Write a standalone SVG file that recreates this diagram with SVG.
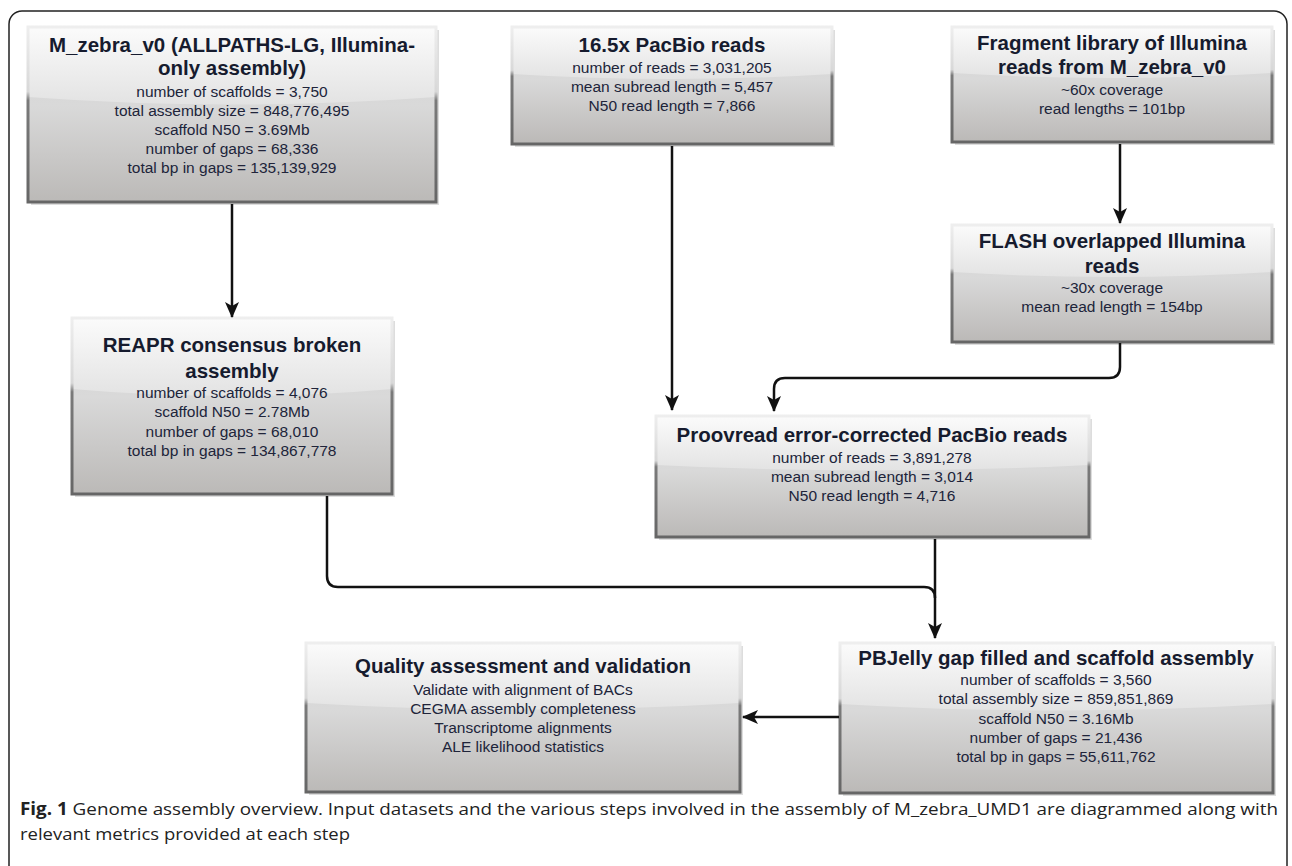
<svg xmlns="http://www.w3.org/2000/svg" width="1292" height="866" viewBox="0 0 1292 866">
<defs>
<linearGradient id="gBody" x1="0" y1="0" x2="0" y2="1">
<stop offset="0" stop-color="#d2d2d2"/>
<stop offset="0.45" stop-color="#d9d9d9"/>
<stop offset="1" stop-color="#bbb9b7"/>
</linearGradient>
<linearGradient id="gGloss" x1="0" y1="0" x2="0" y2="1">
<stop offset="0" stop-color="#fbfbfb"/>
<stop offset="1" stop-color="#e3e3e3"/>
</linearGradient>
<linearGradient id="gEdge" x1="0" y1="0" x2="0" y2="1">
<stop offset="0" stop-color="#eeeeee"/>
<stop offset="0.37" stop-color="#d8d8d8"/>
<stop offset="0.42" stop-color="#7a7a7a"/>
<stop offset="1" stop-color="#666666"/>
</linearGradient>
<marker id="arrow" viewBox="0 0 16 16" refX="15" refY="8" markerWidth="16" markerHeight="16" markerUnits="userSpaceOnUse" orient="auto">
<path d="M0,1 L16,8 L0,15 L4,8 Z" fill="#111"/>
</marker>
<style>
.frame{fill:none;stroke:#222;stroke-width:1.5}
.shadow{fill:#d4d4d4;opacity:0.8}
.body{fill:url(#gBody)}
.gloss{fill:url(#gGloss)}
.edge{fill:none;stroke:url(#gEdge);stroke-width:3}
.title{font-family:"Liberation Sans",Arial,sans-serif;font-weight:bold;font-size:20.5px;fill:#161b2e;text-anchor:middle}
.sub{font-family:"Liberation Sans",Arial,sans-serif;font-size:15.5px;fill:#20243a;text-anchor:middle}
.conn{fill:none;stroke:#111;stroke-width:2.5}
.cap{font-family:"Open Sans","Liberation Sans",sans-serif;font-size:17px;fill:#222}
</style>
</defs>
<rect x="0" y="0" width="1292" height="866" fill="#ffffff"/>
<rect class="frame" x="9" y="11" width="1278" height="880" rx="13" ry="13"/>

<g id="node-mzebra">
<rect class="shadow" x="31" y="30" width="408" height="175"/>
<rect class="body" x="28" y="27" width="408" height="175"/>
<path class="gloss" d="M28,27 H436 V97 Q232,112 28,97 Z"/>
<rect class="edge" x="28" y="27" width="408" height="175"/>
<text class="title" x="232" y="52">M_zebra_v0 (ALLPATHS-LG, Illumina-</text>
<text class="title" x="232" y="75">only assembly)</text>
<text class="sub" x="232" y="97">number of scaffolds = 3,750</text>
<text class="sub" x="232" y="116">total assembly size = 848,776,495</text>
<text class="sub" x="232" y="135">scaffold N50 = 3.69Mb</text>
<text class="sub" x="232" y="154">number of gaps = 68,336</text>
<text class="sub" x="232" y="173">total bp in gaps = 135,139,929</text>
</g>

<g id="node-pacbio">
<rect class="shadow" x="515" y="30" width="320" height="117"/>
<rect class="body" x="512" y="27" width="320" height="117"/>
<path class="gloss" d="M512,27 H832 V74 Q672,84 512,74 Z"/>
<rect class="edge" x="512" y="27" width="320" height="117"/>
<text class="title" x="672" y="52">16.5x PacBio reads</text>
<text class="sub" x="672" y="73">number of reads = 3,031,205</text>
<text class="sub" x="672" y="92">mean subread length = 5,457</text>
<text class="sub" x="672" y="111">N50 read length = 7,866</text>
</g>

<g id="node-fragment">
<rect class="shadow" x="955" y="30" width="320" height="115"/>
<rect class="body" x="952" y="27" width="320" height="115"/>
<path class="gloss" d="M952,27 H1272 V73 Q1112,83 952,73 Z"/>
<rect class="edge" x="952" y="27" width="320" height="115"/>
<text class="title" x="1112" y="50">Fragment library of Illumina</text>
<text class="title" x="1112" y="74">reads from M_zebra_v0</text>
<text class="sub" x="1112" y="95">~60x coverage</text>
<text class="sub" x="1112" y="114">read lengths = 101bp</text>
</g>

<g id="node-flash">
<rect class="shadow" x="955" y="228" width="320" height="117"/>
<rect class="body" x="952" y="225" width="320" height="117"/>
<path class="gloss" d="M952,225 H1272 V272 Q1112,282 952,272 Z"/>
<rect class="edge" x="952" y="225" width="320" height="117"/>
<text class="title" x="1112" y="248">FLASH overlapped Illumina</text>
<text class="title" x="1112" y="273">reads</text>
<text class="sub" x="1112" y="293">~30x coverage</text>
<text class="sub" x="1112" y="312">mean read length = 154bp</text>
</g>

<g id="node-reapr">
<rect class="shadow" x="75" y="321" width="320" height="176"/>
<rect class="body" x="72" y="318" width="320" height="176"/>
<path class="gloss" d="M72,318 H392 V389 Q232,403 72,389 Z"/>
<rect class="edge" x="72" y="318" width="320" height="176"/>
<text class="title" x="232" y="352">REAPR consensus broken</text>
<text class="title" x="232" y="378">assembly</text>
<text class="sub" x="232" y="398">number of scaffolds = 4,076</text>
<text class="sub" x="232" y="417">scaffold N50 = 2.78Mb</text>
<text class="sub" x="232" y="437">number of gaps = 68,010</text>
<text class="sub" x="232" y="456">total bp in gaps = 134,867,778</text>
</g>

<g id="node-proovread">
<rect class="shadow" x="659" y="419" width="433" height="121"/>
<rect class="body" x="656" y="416" width="433" height="121"/>
<path class="gloss" d="M656,416 H1089 V465 Q872,476 656,465 Z"/>
<rect class="edge" x="656" y="416" width="433" height="121"/>
<text class="title" x="872" y="442">Proovread error-corrected PacBio reads</text>
<text class="sub" x="872" y="463">number of reads = 3,891,278</text>
<text class="sub" x="872" y="482">mean subread length = 3,014</text>
<text class="sub" x="872" y="501">N50 read length = 4,716</text>
</g>

<g id="node-pbjelly">
<rect class="shadow" x="843" y="646" width="433" height="150"/>
<rect class="body" x="840" y="643" width="433" height="150"/>
<path class="gloss" d="M840,643 H1273 V704 Q1056,717 840,704 Z"/>
<rect class="edge" x="840" y="643" width="433" height="150"/>
<text class="title" x="1056" y="665">PBJelly gap filled and scaffold assembly</text>
<text class="sub" x="1056" y="685">number of scaffolds = 3,560</text>
<text class="sub" x="1056" y="704">total assembly size = 859,851,869</text>
<text class="sub" x="1056" y="724">scaffold N50 = 3.16Mb</text>
<text class="sub" x="1056" y="743">number of gaps = 21,436</text>
<text class="sub" x="1056" y="762">total bp in gaps = 55,611,762</text>
</g>

<g id="node-quality">
<rect class="shadow" x="309" y="646" width="434" height="149"/>
<rect class="body" x="306" y="643" width="434" height="149"/>
<path class="gloss" d="M306,643 H740 V703 Q523,716 306,703 Z"/>
<rect class="edge" x="306" y="643" width="434" height="149"/>
<text class="title" x="523" y="673">Quality assessment and validation</text>
<text class="sub" x="523" y="695">Validate with alignment of BACs</text>
<text class="sub" x="523" y="714">CEGMA assembly completeness</text>
<text class="sub" x="523" y="733">Transcriptome alignments</text>
<text class="sub" x="523" y="752">ALE likelihood statistics</text>
</g>

<g id="connectors">
<path class="conn" d="M232,204 V317" marker-end="url(#arrow)"/>
<path class="conn" d="M1120,144 V223" marker-end="url(#arrow)"/>
<path class="conn" d="M672,146 V410" marker-end="url(#arrow)"/>
<path class="conn" d="M1120,343 V367 Q1120,378 1109,378 H785 Q774,378 774,389 V411" marker-end="url(#arrow)"/>
<path class="conn" d="M327,496 V576 Q327,587 338,587 H924 Q935,587 935,598"/>
<path class="conn" d="M935,539 V638" marker-end="url(#arrow)"/>
<path class="conn" d="M839,717 H743" marker-end="url(#arrow)"/>
</g>

<g id="caption">
<text class="cap" x="20" y="815" textLength="1258" lengthAdjust="spacingAndGlyphs"><tspan font-weight="bold">Fig. 1</tspan> Genome assembly overview. Input datasets and the various steps involved in the assembly of M_zebra_UMD1 are diagrammed along with</text>
<text class="cap" x="20" y="840" textLength="330" lengthAdjust="spacingAndGlyphs">relevant metrics provided at each step</text>
</g>
</svg>
